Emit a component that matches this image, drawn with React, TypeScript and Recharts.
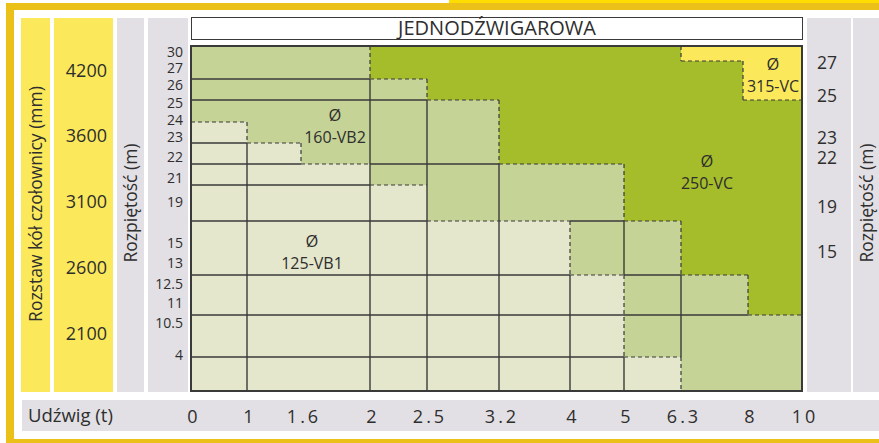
import React from 'react';
import { ComposedChart, XAxis, YAxis, ReferenceArea, ReferenceLine, Scatter } from 'recharts';

// Udźwig (t) - labels along the bottom, one per column edge
const loadLabels = ['0', '1', '1.6', '2', '2.5', '3.2', '4', '5', '6.3', '8', '10'];
// Rozpiętość (m) - left and right scales
const spanLeftLabels = ['30', '27', '26', '25', '24', '23', '22', '21', '19', '15', '13', '12.5', '11', '10.5', '4'];
const spanRightLabels = ['27', '25', '23', '22', '19', '15'];
// Rozstaw kół czołownicy (mm)
const wheelBaseLabels = ['4200', '3600', '3100', '2600', '2100'];

// hoist per table cell, rows top -> bottom, columns left -> right
// A = Ø125-VB1, B = Ø160-VB2, C = Ø250-VC
const cellZones = [
  'BBBCCCCCCC',
  'BBBBCCCCCC',
  'BBBBBCCCCC',
  'ABBBBCCCCC',
  'AABBBCCCCC',
  'AAABBBBCCC',
  'AAAABBBCCC',
  'AAAAAABBCC',
  'AAAAAAABBC',
  'AAAAAAABBB',
  'AAAAAAAABB',
];
const zoneNames = ['160-VB2', '125-VB1', '250-VC', '315-VC'];

// table geometry (grid units)
const colEdges = [0, 56, 110, 179, 236, 308, 379, 433, 490, 557, 611];
const rowEdges = [0, 33, 54, 76, 97, 118, 139, 175, 229, 269, 311, 345];
const spanLeftPos = [6, 22, 39, 57, 74, 91, 111, 132, 156, 197, 217, 238, 257, 277, 309];
const spanRightPos = [17, 50, 92, 112, 161, 206];
const wheelBasePos = [25, 90, 156, 222, 288];
const zoneLabelPos = [
  { x: 144, y: 80 },
  { x: 121, y: 206 },
  { x: 516, y: 126 },
  { x: 582, y: 29 },
];
const vcStep = { x: 552, y: 15 };

// grid lines: [edge, from, to]
const hSolid = [[1, 0, 3], [2, 0, 4], [4, 0, 1], [5, 0, 2], [5, 3, 5], [6, 0, 3], [7, 0, 4], [7, 6, 7], [8, 0, 6], [8, 7, 8], [9, 0, 9], [10, 0, 7]];
const hDashed = [[1, 3, 4], [2, 4, 5], [3, 0, 1], [4, 1, 2], [5, 2, 3], [5, 5, 7], [6, 3, 4], [7, 4, 6], [7, 7, 8], [8, 6, 7], [8, 8, 9], [9, 9, 10], [10, 7, 8]];
const vSolid = [[1, 4, 11], [3, 1, 11], [4, 2, 11], [5, 5, 11], [6, 8, 11], [7, 7, 8], [7, 10, 11], [8, 8, 10]];
const vDashed = [[1, 3, 4], [2, 4, 5], [3, 0, 1], [4, 1, 2], [5, 2, 5], [6, 7, 8], [7, 5, 7], [7, 8, 10], [8, 7, 8], [8, 10, 11], [9, 8, 9]];

const zoneColors: Record<string, string> = { A: '#e4e7cc', B: '#c5d396', C: '#a6bd2b', D: '#fbe95b' };
const FONT = '"Open Sans", "DejaVu Sans", sans-serif';
const TEXT = '#2e2e2e';
const LINE = '#3a3a3a';
const GREY = '#e2e0e4';
const YELLOW = '#fbe95b';

const LoadTick = ({ x, y, payload }: any) => (
  <text x={x + 3} y={y} dy="0.71em" textAnchor="middle" fontSize={18} fill={TEXT} letterSpacing={3}>
    {loadLabels[colEdges.indexOf(payload.value)]}
  </text>
);
const SpanLeftTick = ({ x, y, payload }: any) => (
  <text x={x} y={y} dy="0.36em" textAnchor="end" fontSize={14} fill={TEXT}>
    {spanLeftLabels[spanLeftPos.indexOf(payload.value)]}
  </text>
);
const SpanRightTick = ({ x, y, payload }: any) => (
  <text x={x} y={y} dy="0.36em" textAnchor="start" fontSize={17.5} fill={TEXT}>
    {spanRightLabels[spanRightPos.indexOf(payload.value)]}
  </text>
);
const WheelTick = ({ x, y, payload }: any) => (
  <text x={x} y={y} dy="0.36em" textAnchor="end" fontSize={18} fill={TEXT}>
    {wheelBaseLabels[wheelBasePos.indexOf(payload.value)]}
  </text>
);

const ZoneLabel = ({ cx, cy, payload }: any) => (
  <g>
    <text x={cx} y={cy - 11} dy="0.36em" textAnchor="middle" fontSize={16.5} fill={TEXT}>Ø</text>
    <text x={cx} y={cy + 11} dy="0.36em" textAnchor="middle" fontSize={16} fill={TEXT}>{payload.name}</text>
  </g>
);

const box = (left: number, top: number, width: number, height: number, bg: string): React.CSSProperties => ({
  position: 'absolute', left, top, width, height, background: bg,
});

const Rotated = ({ cx, cy, text }: { cx: number; cy: number; text: string }) => (
  <div
    style={{
      position: 'absolute', left: cx, top: cy, transform: 'translate(-50%, -50%) rotate(-90deg)',
      whiteSpace: 'nowrap', fontSize: 17.5, color: TEXT, lineHeight: 1,
    }}
  >
    {text}
  </div>
);

export default function App() {
  const cells: React.ReactNode[] = [];
  cellZones.forEach((row, r) => {
    row.split('').forEach((z, c) => {
      cells.push(
        <ReferenceArea
          key={`c${r}-${c}`}
          yAxisId="span"
          x1={colEdges[c]}
          x2={colEdges[c + 1]}
          y1={rowEdges[r]}
          y2={rowEdges[r + 1]}
          fill={zoneColors[z]}
          fillOpacity={1}
          stroke="none"
          ifOverflow="visible"
        />
      );
    });
  });

  const seg = (key: string, a: { x: number; y: number }, b: { x: number; y: number }, dashed: boolean) => (
    <ReferenceLine
      key={key}
      yAxisId="span"
      segment={[a, b]}
      stroke={LINE}
      strokeWidth={dashed ? 1.2 : 1.4}
      strokeDasharray={dashed ? '4 3' : undefined}
      ifOverflow="visible"
    />
  );

  const lines: React.ReactNode[] = [];
  hSolid.forEach(([e, f, t], i) => lines.push(seg(`hs${i}`, { x: colEdges[f], y: rowEdges[e] }, { x: colEdges[t], y: rowEdges[e] }, false)));
  vSolid.forEach(([e, f, t], i) => lines.push(seg(`vs${i}`, { x: colEdges[e], y: rowEdges[f] }, { x: colEdges[e], y: rowEdges[t] }, false)));
  hDashed.forEach(([e, f, t], i) => lines.push(seg(`hd${i}`, { x: colEdges[f], y: rowEdges[e] }, { x: colEdges[t], y: rowEdges[e] }, true)));
  vDashed.forEach(([e, f, t], i) => lines.push(seg(`vd${i}`, { x: colEdges[e], y: rowEdges[f] }, { x: colEdges[e], y: rowEdges[t] }, true)));
  // Ø315-VC outline
  lines.push(seg('y1', { x: colEdges[8], y: 0 }, { x: colEdges[8], y: vcStep.y }, true));
  lines.push(seg('y2', { x: colEdges[8], y: vcStep.y }, { x: vcStep.x, y: vcStep.y }, true));
  lines.push(seg('y3', { x: vcStep.x, y: vcStep.y }, { x: vcStep.x, y: rowEdges[2] }, true));
  lines.push(seg('y4', { x: vcStep.x, y: rowEdges[2] }, { x: colEdges[10], y: rowEdges[2] }, true));

  const labelData = zoneNames.map((name, i) => ({ name, ...zoneLabelPos[i] }));

  return (
    <div style={{ position: 'absolute', left: 0, top: 0, width: 879, height: 443, overflow: 'hidden', background: '#fff', fontFamily: FONT }}>
      <div style={box(449, 0, 430, 3, '#ffdd00')} />
      <div
        style={{
          position: 'absolute', left: 6, top: 3, width: 900, height: 444, boxSizing: 'border-box',
          borderLeft: '8px solid #ebc119', borderTop: '7px solid #ebc119', borderBottom: '8px solid #ebc119',
        }}
      />
      <div style={box(21, 18, 29, 374, YELLOW)} />
      <div style={box(54, 18, 59, 374, YELLOW)} />
      <div style={box(117, 18, 27, 374, GREY)} />
      <div style={box(148, 18, 40, 374, GREY)} />
      <div style={box(807, 18, 44, 374, GREY)} />
      <div style={box(853, 18, 30, 374, GREY)} />
      <div style={box(22, 400, 860, 31, GREY)} />
      <Rotated cx={36} cy={204} text="Rozstaw kół czołownicy (mm)" />
      <Rotated cx={131} cy={203} text="Rozpiętość (m)" />
      <Rotated cx={867} cy={203} text="Rozpiętość (m)" />
      <div style={{ position: 'absolute', left: 28, top: 404, fontSize: 18.5, lineHeight: '22px', color: TEXT }}>Udźwig (t)</div>
      <div
        style={{
          position: 'absolute', left: 191, top: 17, width: 612, height: 23, boxSizing: 'border-box',
          border: `1.5px solid ${LINE}`, background: '#fff', textAlign: 'center', fontSize: 20,
          lineHeight: '20px', color: TEXT,
        }}
      >
        JEDNODŹWIGAROWA
      </div>
      <div style={{ position: 'absolute', left: 0, top: 0 }}>
        <ComposedChart
          width={879}
          height={443}
          margin={{ top: 46, right: 27, bottom: 12, left: 54 }}
          style={{ fontFamily: FONT }}
        >
          <XAxis
            type="number"
            dataKey="x"
            domain={[0, 611]}
            ticks={colEdges}
            interval={0}
            allowDataOverflow
            axisLine={false}
            tickLine={false}
            tickSize={0}
            tickMargin={19}
            height={40}
            tick={<LoadTick />}
          />
          <YAxis
            yAxisId="span"
            type="number"
            dataKey="y"
            domain={[0, 345]}
            reversed
            ticks={spanLeftPos}
            interval={0}
            allowDataOverflow
            axisLine={false}
            tickLine={false}
            tickSize={0}
            tickMargin={8}
            width={43}
            tick={<SpanLeftTick />}
          />
          <YAxis
            yAxisId="wheel"
            type="number"
            domain={[0, 345]}
            reversed
            ticks={wheelBasePos}
            interval={0}
            allowDataOverflow
            axisLine={false}
            tickLine={false}
            tickSize={0}
            tickMargin={41}
            width={94}
            tick={<WheelTick />}
          />
          <YAxis
            yAxisId="right"
            orientation="right"
            type="number"
            domain={[0, 345]}
            reversed
            ticks={spanRightPos}
            interval={0}
            allowDataOverflow
            axisLine={false}
            tickLine={false}
            tickSize={0}
            tickMargin={15}
            width={50}
            tick={<SpanRightTick />}
          />
          {cells}
          <ReferenceArea yAxisId="span" x1={colEdges[8]} x2={colEdges[10]} y1={0} y2={vcStep.y} fill={zoneColors.D} fillOpacity={1} stroke="none" ifOverflow="visible" />
          <ReferenceArea yAxisId="span" x1={vcStep.x} x2={colEdges[10]} y1={vcStep.y} y2={rowEdges[2]} fill={zoneColors.D} fillOpacity={1} stroke="none" ifOverflow="visible" />
          {lines}
          <ReferenceArea yAxisId="span" x1={0} x2={611} y1={0} y2={345} fill="none" stroke={LINE} strokeWidth={2} ifOverflow="visible" />
          <Scatter yAxisId="span" data={labelData} isAnimationActive={false} shape={<ZoneLabel />} />
        </ComposedChart>
      </div>
    </div>
  );
}
